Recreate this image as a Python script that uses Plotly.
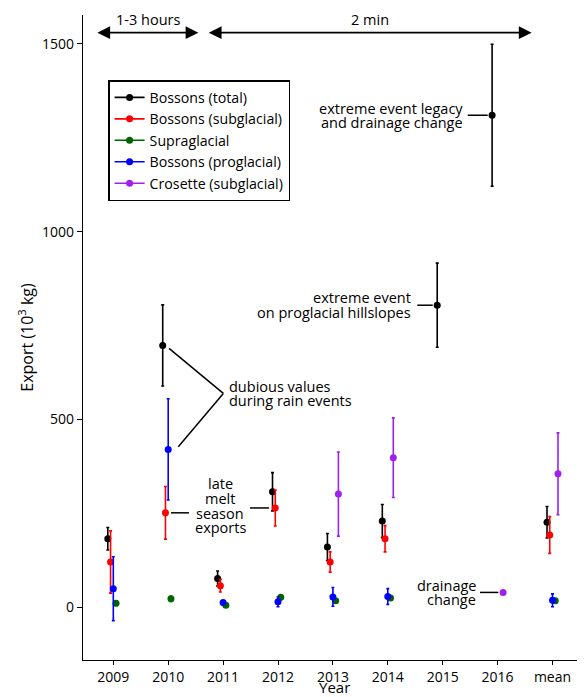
import plotly.graph_objects as go

# ---------------- data ----------------
years = ["2009", "2010", "2011", "2012", "2013", "2014", "2015", "2016", "mean"]

total = [182, 697, 76, 307, 160, 229, 804, 1310, 226]
total_err = [30, 108, 20, 51, 36, 44, 112, 189, 42]

subglacial = [120, 251, 57, 264, 120, 182, None, None, 192]
subglacial_err = [83, 70, 17, 48, 27, 35, None, None, 49]

supraglacial = [10, 22, 4.5, 26, 17, 24, None, None, 17]
supraglacial_err = [6, 7, 4, 6, 5, 6, None, None, 5]

proglacial = [49, 420, 12, 14, 27, 28, None, None, 18]
proglacial_err = [85, 135, 5, 13, 25, 21, None, None, 17]

crosette = [None, None, None, None, 301, 398, None, 39, 355]
crosette_err = [None, None, None, None, 112, 106, None, 3, 109]

series_names = ["Bossons (total)", "Bossons (subglacial)", "Supraglacial",
                "Bossons (proglacial)", "Crosette (subglacial)"]

# ---------------- styles ----------------
colors = ["#000000", "#FF0000", "#006400", "#0000FF", "#A020F0"]
offsets = [-0.1, -0.05, 0.05, 0.0, 0.1]
FONT = "Open Sans"

values = [total, subglacial, supraglacial, proglacial, crosette]
errors = [total_err, subglacial_err, supraglacial_err, proglacial_err, crosette_err]

fig = go.Figure()
pos = list(range(1, len(years) + 1))

for name, vals, errs, col, off in zip(series_names, values, errors, colors, offsets):
    xs, ys, es = [], [], []
    for p, v, e in zip(pos, vals, errs):
        if v is None:
            continue
        xs.append(p + off)
        ys.append(v)
        es.append(e)
    fig.add_trace(go.Scatter(
        x=xs, y=ys, mode="markers", showlegend=False,
        marker=dict(color=col, size=7),
        error_y=dict(type="data", array=es, visible=True, color=col,
                     thickness=1.6, width=1.5),
        cliponaxis=False,
    ))

# legend entries (line + dot glyph)
for name, col in zip(series_names, colors):
    fig.add_trace(go.Scatter(
        x=[None], y=[None], mode="lines+markers", name=name,
        line=dict(color=col, width=1.6), marker=dict(color=col, size=7),
    ))

# ---------------- annotations ----------------
anns = []
shapes = []
LINE = dict(color="black", width=1.5)


def text_block(lines, x, y, anchor, spacing):
    n = len(lines)
    for i, t in enumerate(lines):
        anns.append(dict(
            x=x, y=y, xref="x", yref="y", text=t, showarrow=False,
            xanchor=anchor, yanchor="middle", borderpad=0,
            yshift=-(i - (n - 1) / 2) * spacing,
            font=dict(family=FONT, size=14.5, color="black"),
        ))


def seg(x0, y0, x1, y1):
    shapes.append(dict(type="line", xref="x", yref="y",
                       x0=x0, y0=y0, x1=x1, y1=y1, line=LINE))


# extreme event legacy
text_block(["extreme event legacy", "and drainage change"], 7.388, total[7], "right", 13.7)
seg(7.455, total[7], 7.82, total[7])

# extreme event on proglacial hillslopes
text_block(["extreme event", "on proglacial hillslopes"], 6.446, total[6], "right", 14.6)
seg(6.537, total[6], 6.818, total[6])

# dubious values
text_block(["dubious values", "during rain events"], 3.084, 570, "left", 14)
seg(2.015, 689, 3.004, 569)
seg(2.184, 427, 3.004, 569)

# late melt season exports
text_block(["late", "melt", "season", "exports"], 2.944, 270, "center", 14.8)
seg(2.051, subglacial[1], 2.379, subglacial[1])
seg(3.49, subglacial[3], 3.836, subglacial[3])

# drainage change
text_block(["drainage", "change"], 7.619, crosette[7], "right", 14.3)
seg(7.68, crosette[7], 8.013, crosette[7])

# top double arrows
for x0, x1, label in [(0.70, 2.55, "1-3 hours"), (2.73, 8.62, "2 min")]:
    anns.append(dict(
        x=x1, y=1530, ax=x0, ay=1530, xref="x", yref="y", axref="x", ayref="y",
        text="", showarrow=True, arrowside="end+start",
        arrowhead=2, startarrowhead=2, arrowsize=1.6, startarrowsize=1.6,
        arrowwidth=1.6, arrowcolor="black", standoff=0, startstandoff=0,
        borderpad=0,
    ))
    anns.append(dict(
        x=(x0 + x1) / 2, y=1530, xref="x", yref="y", text=label,
        showarrow=False, yshift=13, yanchor="middle", borderpad=0,
        font=dict(family=FONT, size=14.5, color="black"),
    ))

# x-axis title
anns.append(dict(
    x=0.5, y=0, xref="paper", yref="paper", text="Year", showarrow=False,
    xanchor="center", yanchor="middle", yshift=-27, borderpad=0,
    font=dict(family=FONT, size=15, color="black"),
))

# page body has an 8px margin: figure is sized to fill the visible window
fig.update_layout(
    width=577, height=689,
    margin=dict(l=75, r=0, t=7, b=37),
    paper_bgcolor="white", plot_bgcolor="white",
    font=dict(family=FONT, size=14, color="black"),
    annotations=anns, shapes=shapes,
    legend=dict(
        x=0.05, y=0.899, xanchor="left", yanchor="top",
        bgcolor="white", bordercolor="black", borderwidth=1.5,
        font=dict(family=FONT, size=14.2, color="black"),
        tracegroupgap=0,
    ),
    xaxis=dict(
        range=[0.448, 9.592], tickmode="array", tickvals=pos, ticktext=years,
        showgrid=False, zeroline=False, showline=True, linecolor="black",
        linewidth=1.2, ticks="outside", ticklen=4, tickcolor="black",
        tickfont=dict(family=FONT, size=14, color="black"),
        automargin=False,
    ),
    yaxis=dict(
        range=[-141, 1577], tickmode="array", tickvals=[0, 500, 1000, 1500],
        showgrid=False, zeroline=False, showline=True, linecolor="black",
        linewidth=1.2, ticks="outside", ticklen=5, tickcolor="black",
        tickfont=dict(family=FONT, size=14, color="black"),
        title=dict(text="Export (10<sup>3</sup> kg)",
                   font=dict(family=FONT, size=16, color="black"), standoff=4),
        automargin=False,
    ),
)

fig.write_html("out.html")
